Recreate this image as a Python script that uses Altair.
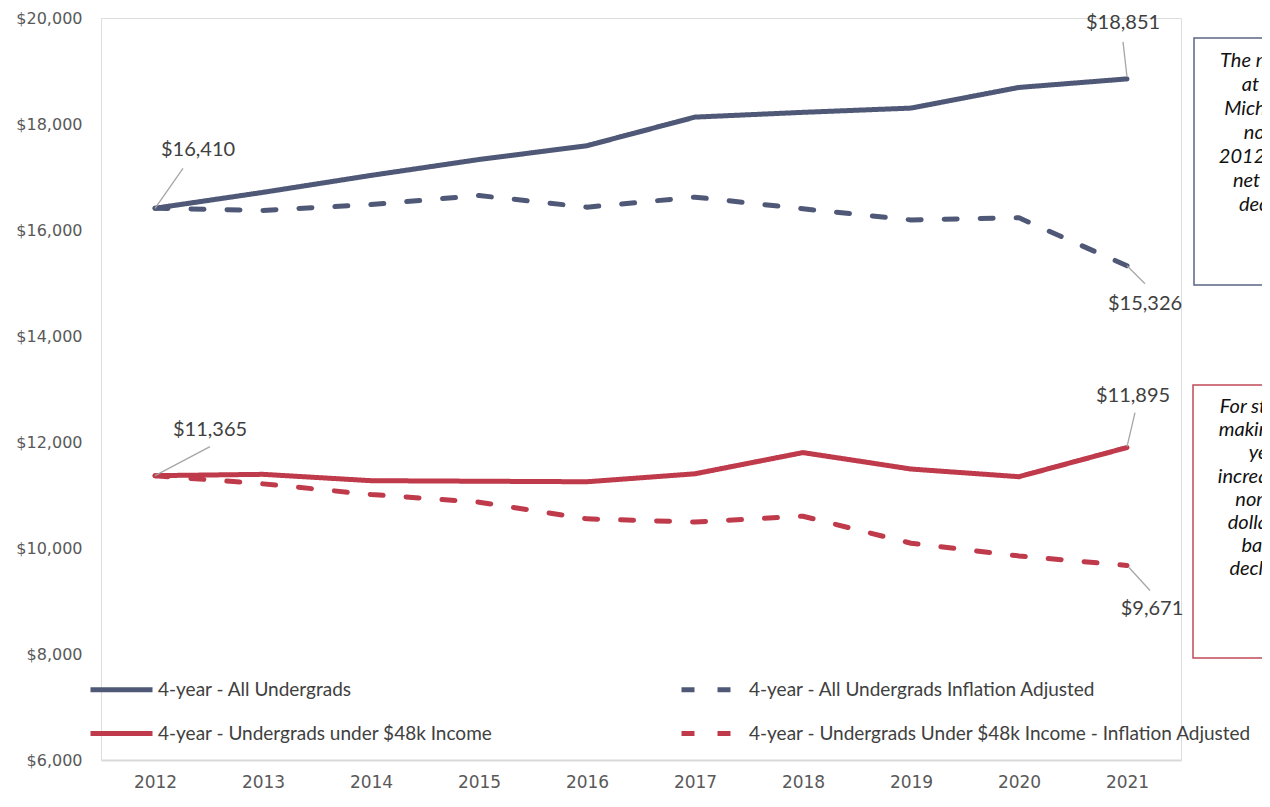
import altair as alt
import pandas as pd

# ---------------- data ----------------
years = [2012, 2013, 2014, 2015, 2016, 2017, 2018, 2019, 2020, 2021]
all_nominal = [16410, 16710, 17030, 17330, 17590, 18130, 18220, 18300, 18690, 18851]
all_real = [16410, 16370, 16480, 16650, 16430, 16620, 16400, 16190, 16230, 15326]
low_nominal = [11365, 11390, 11270, 11260, 11250, 11400, 11800, 11490, 11345, 11895]
low_real = [11365, 11210, 11010, 10865, 10550, 10490, 10600, 10090, 9850, 9671]

series_names = [
    "4-year - All Undergrads",
    "4-year - All Undergrads Inflation Adjusted",
    "4-year - Undergrads under $48k Income",
    "4-year - Undergrads Under $48k Income - Inflation Adjusted",
]
series_values = [all_nominal, all_real, low_nominal, low_real]

y_ticks = [6000, 8000, 10000, 12000, 14000, 16000, 18000, 20000]

box1_lines = [
    "The median net price",
    "at 4-year public",
    "Michigan colleges in",
    "nominal dollars",
    "2012-2021 rose, but",
    "net price adjusted",
    "declined slightly.",
]
box2_lines = [
    "For students' families",
    "making under $48k a",
    "year, net price",
    "increased modestly in",
    "nominal terms. In",
    "dollars adjusted for",
    "basis, net prices",
    "declined over time.",
]

# ---------------- styles ----------------
BLUE = "#4f5977"
RED = "#bf3a4a"
colors = [BLUE, BLUE, RED, RED]
dashes = [[1, 0], [13, 23], [1, 0], [13, 23]]
TICK_FONT = "DejaVu Sans"
TEXT_FONT = "Lato"

rows = []
for name, vals in zip(series_names, series_values):
    for yr, v in zip(years, vals):
        rows.append({"year": yr, "value": v, "series": name})
df = pd.DataFrame(rows)

x_scale = alt.Scale(domain=[2011.5, 2021.5], nice=False, zero=False)
y_scale = alt.Scale(domain=[6000, 20000], nice=False, zero=False)

legend = alt.Legend(
    title=None,
    orient="none",
    direction="horizontal",
    legendX=-13,
    legendY=638,
    columns=2,
    symbolType="stroke",
    symbolSize=3844,
    symbolStrokeWidth=5,
    labelFont=TEXT_FONT,
    labelFontSize=19,
    labelColor="#404040",
    labelLimit=800,
    labelOffset=3,
    columnPadding=178,
    rowPadding=-1,
    padding=0,
)

lines = alt.Chart(df).mark_line(strokeWidth=5, strokeCap="round", strokeJoin="round").encode(
    x=alt.X(
        "year:Q",
        scale=x_scale,
        axis=alt.Axis(
            values=years, format="d", title=None, ticks=False, grid=False,
            domainColor="#d9d9d9", domainWidth=2,
            labelFont=TICK_FONT, labelFontSize=17, labelColor="#595959", labelPadding=14,
        ),
    ),
    y=alt.Y(
        "value:Q",
        scale=y_scale,
        axis=alt.Axis(
            values=y_ticks, format="$,.0f", title=None, ticks=False, grid=False, domain=False,
            labelFont=TICK_FONT, labelFontSize=16, labelColor="#595959", labelPadding=19,
        ),
    ),
    color=alt.Color("series:N", scale=alt.Scale(domain=series_names, range=colors), legend=legend),
    strokeDash=alt.StrokeDash("series:N", scale=alt.Scale(domain=series_names, range=dashes), legend=legend),
)

# value labels with leader lines
# (series index, point index, rule start dx, dy, rule end dx, dy, text dx, dy)
label_specs = [
    (0, 0, 0, 0, 28, -40, 43, -58),
    (0, -1, 0, -2, -4, -37, -4, -56),
    (1, -1, 0, 0, 18, 18, 18, 38),
    (2, 0, 0, 0, 55, -29, 55, -46),
    (2, -1, 0, -1, 8, -35, 6, -52),
    (3, -1, 2, 2, 23, 25, 25, 44),
]
layers = [lines]
for si, pi, sx, sy, ex, ey, tx, ty in label_specs:
    v = series_values[si][pi]
    yr = years[pi]
    d = pd.DataFrame({"year": [yr], "value": [v], "label": ["${:,.0f}".format(v)]})
    rule = alt.Chart(d).mark_rule(
        color="#a6a6a6", strokeWidth=1.3,
        xOffset=sx, yOffset=sy, x2Offset=ex, y2Offset=ey,
    ).encode(
        x=alt.X("year:Q", scale=x_scale), y=alt.Y("value:Q", scale=y_scale),
        x2="year:Q", y2="value:Q",
    )
    txt = alt.Chart(d).mark_text(
        dx=tx, dy=ty, align="center", baseline="middle",
        font=TEXT_FONT, fontSize=20, color="#404040",
    ).encode(
        x=alt.X("year:Q", scale=x_scale), y=alt.Y("value:Q", scale=y_scale),
        text="label:N",
    )
    layers += [rule, txt]

# annotation boxes (cut off by the right edge, as in the reference)
box1 = alt.Chart(pd.DataFrame({"k": [0]})).mark_rect(
    fillOpacity=0, stroke="#5b6684", strokeWidth=1.5
).encode(x=alt.value(1093), x2=alt.value(1500), y=alt.value(20), y2=alt.value(267))
box1_text = alt.Chart(pd.DataFrame({"k": [0]})).mark_text(
    text=box1_lines, align="center", baseline="middle", lineHeight=24,
    font=TEXT_FONT, fontStyle="italic", fontSize=20, color="#111111",
).encode(x=alt.value(1206), y=alt.value(43))

box2 = alt.Chart(pd.DataFrame({"k": [0]})).mark_rect(
    fillOpacity=0, stroke="#c04a58", strokeWidth=1.5
).encode(x=alt.value(1092), x2=alt.value(1500), y=alt.value(367), y2=alt.value(640))
box2_text = alt.Chart(pd.DataFrame({"k": [0]})).mark_text(
    text=box2_lines, align="center", baseline="middle", lineHeight=23.2,
    font=TEXT_FONT, fontStyle="italic", fontSize=20, color="#111111",
).encode(x=alt.value(1206), y=alt.value(389))

layers += [box1, box1_text, box2, box2_text]

chart = alt.layer(*layers).properties(
    width=1080,
    height=742,
    autosize=alt.AutoSizeParams(type="none"),
    padding={"left": 93, "top": 10, "right": 81, "bottom": 33},
).configure_view(stroke=None).configure(background="white")

chart.save("out.html", embed_options={"renderer": "svg", "actions": False})
